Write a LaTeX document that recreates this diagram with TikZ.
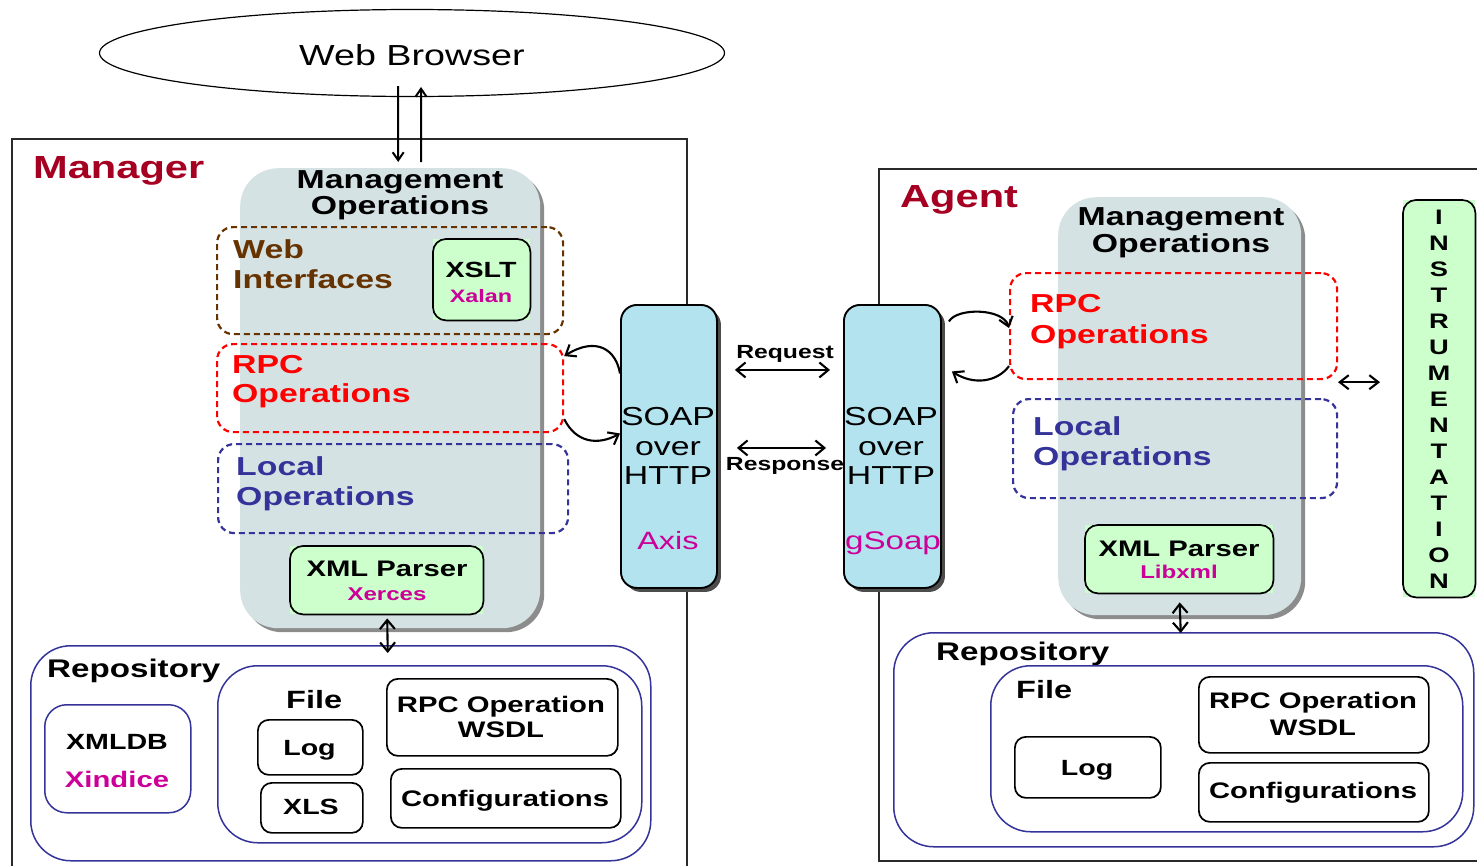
\documentclass[tikz,border=0pt]{standalone}
\usepackage{fontspec}
\setmainfont{Liberation Sans}[FakeStretch=1.3]
\usetikzlibrary{shapes.geometric,shadows,arrows.meta}
\definecolor{mred}{HTML}{A50021}
\definecolor{mgfill}{HTML}{D5E2E4}
\definecolor{gfill}{HTML}{CCFFCC}
\definecolor{magen}{HTML}{CC0099}
\definecolor{brownc}{HTML}{663300}
\definecolor{redc}{HTML}{FF0000}
\definecolor{bluec}{HTML}{333399}
\definecolor{soapfill}{HTML}{B2E3EE}
\definecolor{framec}{HTML}{2A2A2A}
\newcommand\fsz[1]{\fontsize{#1}{#1}\selectfont}
\begin{document}
\begin{tikzpicture}[x=1pt,y=-1pt,
  box/.style={inner sep=0pt, anchor=north west},
  frame/.style={box, draw=framec, line width=1.6pt},
  mgmt/.style={box, fill=mgfill, rounded corners=38pt, drop shadow={shadow xshift=4pt, shadow yshift=-4pt, fill=black!45, opacity=1}},
  dbox/.style={box, dash pattern=on 6pt off 4pt, line width=2.2pt, rounded corners=16pt},
  gsq/.style={box, fill=gfill},
  gline/.style={draw=black, line width=1.7pt, rounded corners=13pt},
  soap/.style={box, fill=soapfill, draw=black, line width=1.9pt, rounded corners=16pt, drop shadow={shadow xshift=4pt, shadow yshift=-4pt, fill=black!70, opacity=1}},
  repo/.style={box, draw=bluec, line width=1.5pt, rounded corners=40pt},
  kbox/.style={box, draw=black, line width=1.7pt, rounded corners=11pt},
  tc/.style={inner sep=0pt, anchor=base},
  tl/.style={inner sep=0pt, anchor=base west},
  sarr/.style={line width=2pt, -{Straight Barb[length=8pt,width=11pt]}},
  carr/.style={line width=2.1pt, -{Straight Barb[length=9pt,width=14pt]}},
  darr/.style={line width=2.1pt, {Straight Barb[length=9pt,width=15pt]}-{Straight Barb[length=9pt,width=15pt]}},
  darrs/.style={line width=2.1pt, {Straight Barb[length=9pt,width=14pt]}-{Straight Barb[length=9pt,width=14pt]}},
  bigb/.style={font=\bfseries\fsz{26}},
]
\useasboundingbox (0,0) rectangle (1477,865);

% frames
\node[frame, minimum width=675pt, minimum height=745pt] (mgr) at (11,138) {};
\node[frame, minimum width=640pt, minimum height=692pt] (agt) at (878,168) {};
\node[tl, text=mred, font=\bfseries\fsz{32}] (mgrlbl) at (33,178) {Manager};
\node[tl, text=mred, font=\bfseries\fsz{32}] (agtlbl) at (900,207) {Agent};

% browser
\node[draw, ellipse, line width=1.2pt, minimum width=625pt, minimum height=87pt, inner sep=0pt] (wb) at (412,53) {};
\node[tc, font=\fsz{29}] (wbt) at (412,65) {Web Browser};

% management boxes
\node[mgmt, minimum width=300pt, minimum height=460pt] (mmoL) at (240,168) {};
\node[mgmt, minimum width=243pt, minimum height=418pt] (mmoR) at (1058,197) {};
\node[tc, bigb] (mmoL1) at (400,188) {Management};
\node[tc, bigb] (mmoL2) at (400,214) {Operations};
\node[tc, bigb] (mmoR1) at (1181,225) {Management};
\node[tc, bigb] (mmoR2) at (1181,252) {Operations};

% dashed groups (manager)
\node[dbox, draw=brownc, minimum width=346pt, minimum height=107pt] (webL) at (216,226) {};
\node[tl, bigb, text=brownc] (webL1) at (233,258) {Web};
\node[tl, bigb, text=brownc] (webL2) at (233,288) {Interfaces};
\node[dbox, draw=redc, minimum width=346pt, minimum height=88pt] (rpcL) at (216,343) {};
\node[tl, bigb, text=redc] (rpcL1) at (232,373) {RPC};
\node[tl, bigb, text=redc] (rpcL2) at (232,402) {Operations};
\node[dbox, draw=bluec, minimum width=350pt, minimum height=89pt] (locL) at (217,443) {};
\node[tl, bigb, text=bluec] (locL1) at (236,475) {Local};
\node[tl, bigb, text=bluec] (locL2) at (236,505) {Operations};

% dashed groups (agent)
\node[dbox, draw=redc, minimum width=327pt, minimum height=106pt] (rpcR) at (1009,272) {};
\node[tl, bigb, text=redc] (rpcR1) at (1030,312) {RPC};
\node[tl, bigb, text=redc] (rpcR2) at (1030,343) {Operations};
\node[dbox, draw=bluec, minimum width=324pt, minimum height=99pt] (locR) at (1012,398) {};
\node[tl, bigb, text=bluec] (locR1) at (1033,435) {Local};
\node[tl, bigb, text=bluec] (locR2) at (1033,465) {Operations};

% green boxes
\node[gsq, minimum width=97pt, minimum height=81pt] (xslt) at (433,239) {};
\draw[gline] (xslt.north west) rectangle (xslt.south east);
\node[tc, font=\bfseries\fsz{22}] (xslt1) at (481,277) {XSLT};
\node[tc, text=magen, font=\bfseries\fsz{18}] (xslt2) at (481,302) {Xalan};

\node[gsq, minimum width=193pt, minimum height=68pt] (xmlL) at (290,546) {};
\draw[gline] (xmlL.north west) rectangle (xmlL.south east);
\node[tc, font=\bfseries\fsz{22.5}] (xmlL1) at (387,576) {XML Parser};
\node[tc, text=magen, font=\bfseries\fsz{18.5}] (xmlL2) at (387,600) {Xerces};

\node[gsq, minimum width=188pt, minimum height=68pt] (xmlR) at (1085,525) {};
\draw[gline] (xmlR.north west) rectangle (xmlR.south east);
\node[tc, font=\bfseries\fsz{22.5}] (xmlR1) at (1179,556) {XML Parser};
\node[tc, text=magen, font=\bfseries\fsz{18.5}] (xmlR2) at (1179,578) {Libxml};

\node[gsq, minimum width=72pt, minimum height=397pt] (instr) at (1403,200) {};
\draw[gline] (instr.north west) rectangle (instr.south east);
\foreach \ch [count=\i from 0] in {I,N,S,T,R,U,M,E,N,T,A,T,I,O,N}
  \node[tc, font=\bfseries\fsz{21}] (ins\i) at (1439, 224+26*\i) {\ch};

% SOAP boxes
\node[soap, minimum width=96pt, minimum height=283pt] (soapL) at (620,304) {};
\node[soap, minimum width=97pt, minimum height=283pt] (soapR) at (843,304) {};
\node[tc, font=\fsz{26}] (soapL1) at (668,425) {SOAP};
\node[tc, font=\fsz{26}] (soapL2) at (668,455) {over};
\node[tc, font=\fsz{26}] (soapL3) at (668,484) {HTTP};
\node[tc, font=\fsz{25}, text=magen] (soapL4) at (668,549) {Axis};
\node[tc, font=\fsz{26}] (soapR1) at (891,425) {SOAP};
\node[tc, font=\fsz{26}] (soapR2) at (891,455) {over};
\node[tc, font=\fsz{26}] (soapR3) at (891,484) {HTTP};
\node[tc, font=\fsz{25.5}, text=magen] (soapR4) at (893,549) {gSoap};

% request / response
\draw[darr] ([shift={(17pt,76.5pt)}]soapL.east) -- ([shift={(-13pt,76.5pt)}]soapR.west);
\node[tc, font=\bfseries\fsz{19}] (req) at (785,358) {Request};
\draw[darr] ([shift={(19pt,-1.5pt)}]soapL.east) -- ([shift={(-17pt,-1.5pt)}]soapR.west);
\node[tc, font=\bfseries\fsz{19}] (resp) at (785,470) {Response};

% curved connectors
\draw[carr] ([yshift=73pt]soapL.west) .. controls +(-4,-24) and +(32,-20) .. ([yshift=32pt]rpcL.east);
\draw[carr] ([yshift=-31pt]rpcL.east) .. controls +(12,24) and +(-22,12) .. ([yshift=13pt]soapL.west);
\draw[carr] ([shift={(7pt,125pt)}]soapR.east) .. controls +(8,-14) and +(-6,-20) .. ([yshift=-2pt]rpcR.west);
\draw[carr] ([yshift=-40pt]rpcR.west) .. controls +(-12,16) and +(22,14) .. ([shift={(10pt,75pt)}]soapR.east);

% browser arrows
\draw[sarr] ([shift={(-14pt,-33pt)}]wb.center) -- ([shift={(8pt,6pt)}]mmoL.north);
\draw[sarr] ([shift={(31pt,6pt)}]mmoL.north) -- ([shift={(9pt,-34pt)}]wb.center);

% instrumentation arrow
\draw[darrs] ([shift={(-65pt,16.5pt)}]instr.west) -- ([shift={(-23pt,16.5pt)}]instr.west);

% repositories (manager)
\node[repo, minimum width=620pt, minimum height=215pt] (repoL) at (30,645) {};
\node[tl, font=\bfseries\fsz{25.5}] (repoLt) at (47,677) {Repository};
\node[repo, rounded corners=22pt, minimum width=146pt, minimum height=108pt] (xmldb) at (44,704) {};
\node[tc, font=\bfseries\fsz{22}] (xmldb1) at (117,749) {XMLDB};
\node[tc, font=\bfseries\fsz{22.5}, text=magen] (xmldb2) at (117,787) {Xindice};
\node[repo, minimum width=424pt, minimum height=177pt] (fileL) at (217,665) {};
\node[tl, font=\bfseries\fsz{25}] (fileLt) at (286,708) {File};
\node[kbox, minimum width=105pt, minimum height=55pt] (logL) at (257,719) {};
\node[tc, font=\bfseries\fsz{22}] (logLt) at (309.5,755) {Log};
\node[kbox, minimum width=102pt, minimum height=50pt] (xlsL) at (260,782) {};
\node[tc, font=\bfseries\fsz{22}] (xlsLt) at (311,814) {XLS};
\node[kbox, minimum width=231pt, minimum height=77pt] (wsdlL) at (386,678) {};
\node[tc, font=\bfseries\fsz{22.5}] (wsdlL1) at (501,712) {RPC Operation};
\node[tc, font=\bfseries\fsz{22.5}] (wsdlL2) at (501,737) {WSDL};
\node[kbox, minimum width=230pt, minimum height=59pt] (cfgL) at (390,768) {};
\node[tc, font=\bfseries\fsz{22.5}] (cfgLt) at (505,806) {Configurations};

% repositories (agent)
\node[repo, minimum width=580pt, minimum height=214pt] (repoR) at (893,632) {};
\node[tl, font=\bfseries\fsz{25.5}] (repoRt) at (936,660) {Repository};
\node[repo, minimum width=472pt, minimum height=166pt] (fileR) at (990,665) {};
\node[tl, font=\bfseries\fsz{25}] (fileRt) at (1016,698) {File};
\node[kbox, minimum width=146pt, minimum height=61pt] (logR) at (1014,736) {};
\node[tc, font=\bfseries\fsz{22}] (logRt) at (1087,775) {Log};
\node[kbox, minimum width=230pt, minimum height=76pt] (wsdlR) at (1198,676) {};
\node[tc, font=\bfseries\fsz{22.5}] (wsdlR1) at (1313,708) {RPC Operation};
\node[tc, font=\bfseries\fsz{22.5}] (wsdlR2) at (1313,735) {WSDL};
\node[kbox, minimum width=230pt, minimum height=59pt] (cfgR) at (1198,762) {};
\node[tc, font=\bfseries\fsz{22.5}] (cfgRt) at (1313,798) {Configurations};

% vertical links to repositories
\draw[darr] ([shift={(-3pt,10pt)}]mmoL.south) -- ([shift={(47pt,-8pt)}]repoL.north);
\draw[darr] ([yshift=13pt]mmoR.south) -- ([shift={(-3pt,-1pt)}]repoR.north);
\end{tikzpicture}
\end{document}
